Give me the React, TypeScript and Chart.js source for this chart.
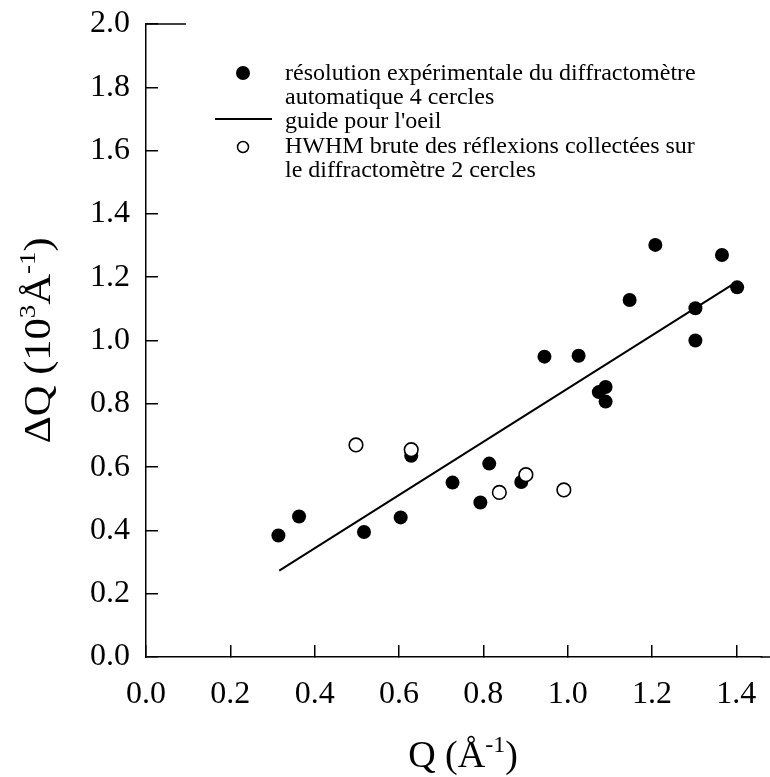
import React, { useEffect, useRef } from "react";
import { Chart, registerables } from "chart.js";

Chart.register(...registerables);

// ---- data ----
const FILLED_Q = [0.314, 0.363, 0.517, 0.604, 0.629, 0.727, 0.793, 0.814, 0.890, 0.945, 1.026, 1.074, 1.090, 1.090, 1.147, 1.208, 1.303, 1.303, 1.366, 1.402];
const FILLED_DQ = [0.384, 0.444, 0.395, 0.441, 0.636, 0.551, 0.488, 0.611, 0.553, 0.949, 0.952, 0.837, 0.853, 0.807, 1.128, 1.302, 1.102, 1.000, 1.270, 1.168];
const OPEN_Q = [0.498, 0.629, 0.838, 0.901, 0.991];
const OPEN_DQ = [0.670, 0.655, 0.520, 0.576, 0.528];
const GUIDE_Q = [0.316, 1.402];
const GUIDE_DQ = [0.273, 1.186];

const X_TICKS = [0, 0.2, 0.4, 0.6, 0.8, 1.0, 1.2, 1.4];
const Y_TICKS = [0, 0.2, 0.4, 0.6, 0.8, 1.0, 1.2, 1.4, 1.6, 1.8, 2.0];
const X_MIN = 0;
const X_MAX = 1.46;
const Y_MIN = 0;
const Y_MAX = 2.0;

const LEGEND_FILLED = ["résolution expérimentale du diffractomètre", "automatique 4 cercles"];
const LEGEND_LINE = ["guide pour l'oeil"];
const LEGEND_OPEN = ["HWHM brute des réflexions collectées sur", "le diffractomètre 2 cercles"];

const SERIF = '"Liberation Serif", "Times New Roman", Times, serif';

type Part = { t: string; size: number; dy: number };

const X_TITLE: Part[] = [
  { t: "Q (Å", size: 38, dy: 0 },
  { t: "-1", size: 24, dy: -15 },
  { t: ")", size: 38, dy: 0 },
];
const Y_TITLE: Part[] = [
  { t: "ΔQ (10", size: 38, dy: 0 },
  { t: "3", size: 24, dy: -15 },
  { t: "Å", size: 38, dy: 0 },
  { t: "-1", size: 24, dy: -15 },
  { t: ")", size: 38, dy: 0 },
];

function measureParts(ctx: CanvasRenderingContext2D, parts: Part[]) {
  let w = 0;
  for (const p of parts) {
    ctx.font = `${p.size}px ${SERIF}`;
    w += ctx.measureText(p.t).width;
  }
  return w;
}

function drawParts(ctx: CanvasRenderingContext2D, parts: Part[], x: number, y: number) {
  let cx = x;
  for (const p of parts) {
    ctx.font = `${p.size}px ${SERIF}`;
    ctx.fillText(p.t, cx, y + p.dy);
    cx += ctx.measureText(p.t).width;
  }
}

const decorPlugin = {
  id: "decor",
  afterDraw(chart: any) {
    const ctx: CanvasRenderingContext2D = chart.ctx;
    const area = chart.chartArea;
    ctx.save();
    ctx.fillStyle = "#000";
    ctx.strokeStyle = "#000";
    ctx.textAlign = "left";
    ctx.textBaseline = "alphabetic";

    ctx.lineWidth = 1.5;
    // short top line at the top of the y axis
    ctx.beginPath();
    ctx.moveTo(area.left, area.top);
    ctx.lineTo(area.left + 40, area.top);
    ctx.stroke();
    // x axis runs on to the right edge of the figure
    ctx.beginPath();
    ctx.moveTo(area.right - 1, area.bottom);
    ctx.lineTo(chart.width, area.bottom);
    ctx.stroke();

    // x title
    const xw = measureParts(ctx, X_TITLE);
    const xc = area.left + 317;
    drawParts(ctx, X_TITLE, xc - xw / 2, area.bottom + 110);

    // y title (rotated)
    ctx.save();
    const yc = (area.top + area.bottom) / 2;
    ctx.translate(50, yc);
    ctx.rotate(-Math.PI / 2);
    ctx.scale(1.12, 1);
    const yw = measureParts(ctx, Y_TITLE);
    drawParts(ctx, Y_TITLE, -yw / 2, 0);
    ctx.restore();

    // legend
    const tx = area.left + 139;
    const mx = area.left + 97;
    ctx.font = `24px ${SERIF}`;
    ctx.beginPath();
    ctx.arc(mx, area.top + 49, 7, 0, Math.PI * 2);
    ctx.fill();
    LEGEND_FILLED.forEach((s, i) => ctx.fillText(s, tx, area.top + 56 + i * 24));
    ctx.lineWidth = 2;
    ctx.beginPath();
    ctx.moveTo(area.left + 69, area.top + 95);
    ctx.lineTo(area.left + 126, area.top + 95);
    ctx.stroke();
    LEGEND_LINE.forEach((s, i) => ctx.fillText(s, tx, area.top + 104 + i * 24));
    ctx.lineWidth = 1.5;
    ctx.beginPath();
    ctx.arc(mx, area.top + 123, 5.5, 0, Math.PI * 2);
    ctx.fillStyle = "#fff";
    ctx.fill();
    ctx.stroke();
    ctx.fillStyle = "#000";
    LEGEND_OPEN.forEach((s, i) => ctx.fillText(s, tx, area.top + 129 + i * 24));

    ctx.restore();
  },
};

export default function App() {
  const ref = useRef<HTMLCanvasElement | null>(null);

  useEffect(() => {
    if (!ref.current) return;
    const chart = new Chart(ref.current, {
      type: "scatter",
      data: {
        datasets: [
          {
            label: "HWHM",
            data: OPEN_Q.map((q, i) => ({ x: q, y: OPEN_DQ[i] })),
            pointRadius: 6.8,
            pointBackgroundColor: "#ffffff",
            pointBorderColor: "#000000",
            pointBorderWidth: 1.6,
            showLine: false,
          },
          {
            label: "résolution",
            data: FILLED_Q.map((q, i) => ({ x: q, y: FILLED_DQ[i] })),
            pointRadius: 7,
            pointBackgroundColor: "#000000",
            pointBorderColor: "#000000",
            pointBorderWidth: 0,
            showLine: false,
          },
          {
            label: "guide",
            data: GUIDE_Q.map((q, i) => ({ x: q, y: GUIDE_DQ[i] })),
            showLine: true,
            borderColor: "#000000",
            borderWidth: 2,
            pointRadius: 0,
            fill: false,
          },
        ],
      },
      options: {
        animation: false,
        responsive: false,
        maintainAspectRatio: false,
        layout: { padding: { top: 24, right: 0, bottom: 0, left: 0 } },
        plugins: { legend: { display: false }, tooltip: { enabled: false } },
        scales: {
          x: {
            type: "linear",
            min: X_MIN,
            max: X_MAX,
            afterBuildTicks: (s: any) => {
              s.ticks = X_TICKS.map((v) => ({ value: v }));
            },
            afterFit: (s: any) => {
              s.height = 120;
              s.paddingLeft = 0;
              s.paddingRight = 0;
            },
            grid: { display: true, drawOnChartArea: false, drawTicks: true, tickLength: -12, color: "#000", lineWidth: 1.5 },
            border: { display: true, color: "#000", width: 1.5 },
            ticks: {
              padding: 30,
              color: "#000",
              font: { family: SERIF, size: 32 },
              maxRotation: 0,
              autoSkip: false,
              callback: (v: any) => Number(v).toFixed(1),
            },
          },
          y: {
            type: "linear",
            min: Y_MIN,
            max: Y_MAX,
            afterBuildTicks: (s: any) => {
              s.ticks = Y_TICKS.map((v) => ({ value: v }));
            },
            afterFit: (s: any) => {
              s.width = 146;
              s.paddingTop = 0;
              s.paddingBottom = 0;
            },
            grid: { display: true, drawOnChartArea: false, drawTicks: true, tickLength: -12, color: "#000", lineWidth: 1.5 },
            border: { display: true, color: "#000", width: 1.5 },
            ticks: {
              padding: 28,
              color: "#000",
              font: { family: SERIF, size: 32 },
              autoSkip: false,
              callback: (v: any) => Number(v).toFixed(1),
            },
          },
        },
      },
      plugins: [decorPlugin],
    } as any);
    return () => chart.destroy();
  }, []);

  return (
    <div style={{ position: "absolute", left: 0, top: 0, width: 770, height: 777, background: "#fff" }}>
      <canvas ref={ref} width={770} height={777} style={{ display: "block", width: 770, height: 777 }} />
    </div>
  );
}
